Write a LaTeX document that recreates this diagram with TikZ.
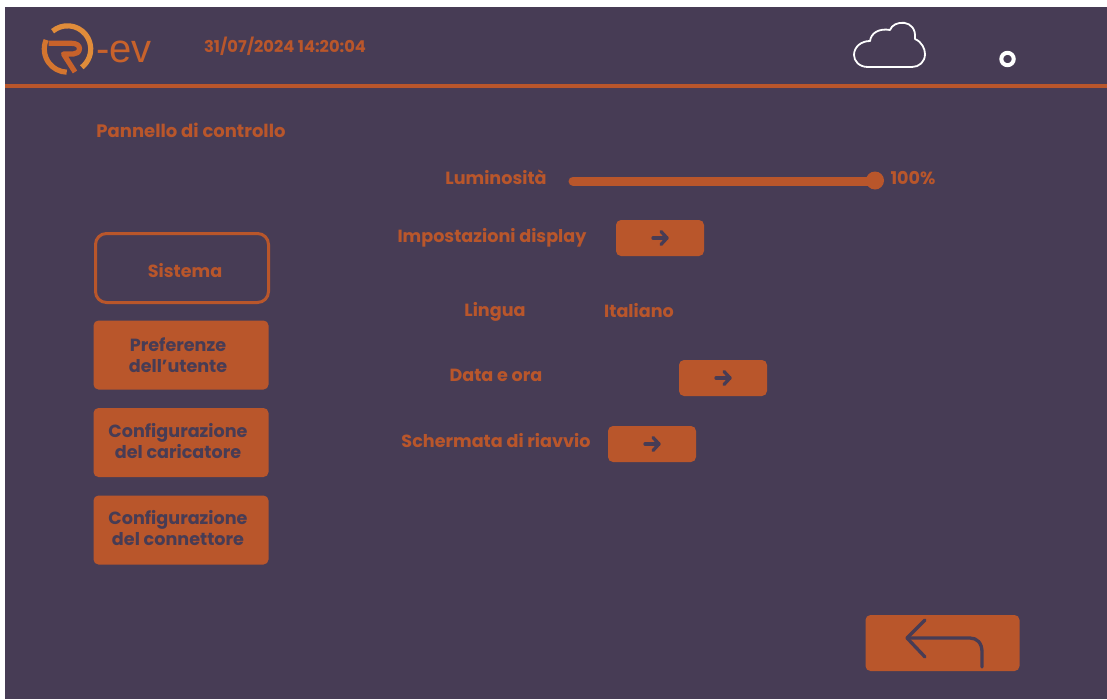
\documentclass[tikz,border=0pt]{standalone}
\usepackage{fontspec}
\setmainfont{Poppins}
\newfontfamily\evfont{Liberation Sans}
\usetikzlibrary{arrows.meta}
\definecolor{panel}{HTML}{473C55}
\definecolor{rust}{HTML}{B9562B}
\definecolor{logotop}{HTML}{E08C3A}
\definecolor{logomid}{HTML}{D4752F}
\definecolor{logolow}{HTML}{C8622B}
\tikzset{
 x=1pt,y=-1pt,
 lbl/.style={text=rust,font=\bfseries\fontsize{17.6}{21}\selectfont,inner sep=0pt,align=center},
 dk/.style={text=panel,font=\bfseries\fontsize{17.6}{21}\selectfont,inner sep=0pt,align=center},
 btn/.style={fill=rust,rounded corners=5pt,draw=none,inner sep=0pt},
 arr/.style={draw=panel,line width=3.3pt,line cap=round,line join=round},
 wire/.style={draw=white,line join=round,line cap=round},
 logo/.style={line width=5.2pt,line join=round},
}
\begin{document}
\begin{tikzpicture}
\useasboundingbox (0,0) rectangle (1107,699);
\fill[white] (0,0) rectangle (1107,699);
\fill[panel] (5,7) rectangle (1107,699);
\fill[rust] (5,84) rectangle (1107,88);
% logo
\begin{scope}[shift={(67.5,49)},y=1pt]
\draw[logo,logotop] (130:23.2) arc[start angle=130,end angle=-52,radius=23.2];
\draw[logo,logomid] (157:23.2) arc[start angle=157,end angle=268,radius=23.2];
\draw[logo,logolow] (-19,5.7) -- (4,5.7) .. controls (9,5.7) and (12,3.5) .. (12,0.5)
  .. controls (12,-3) and (9,-5) .. (6,-5) -- (-4,-5) -- (7.5,-23);
\end{scope}
\node[text=logolow,font=\evfont\fontsize{40}{40}\selectfont,inner sep=0pt,anchor=base west] (ev) at (96,62) {-ev};
\node[lbl,font=\bfseries\fontsize{16.3}{20}\selectfont] (date) at (285,46) {31/07/2024 14:20:04};
% cloud
\draw[wire,line width=1.8pt] (868,67) .. controls (859,67) and (854,61) .. (854,55)
 .. controls (854,47) and (861,41) .. (870,41)
 .. controls (871,33) and (879,28) .. (890,30)
 .. controls (893,20) and (917,18) .. (915,39)
 .. controls (922,42) and (925,49) .. (925,54)
 .. controls (925,62) and (919,67) .. (912,67) -- cycle;
\draw[draw=white,line width=4pt] (1007.5,59) circle[radius=6.2];
\node[lbl,font=\bfseries\fontsize{18}{21}\selectfont] (title) at (191,130.5) {Pannello di controllo};
\node[lbl] (lum) at (496,177) {Luminosità};
\draw[rust,line width=9pt,line cap=round] (573,181) -- (875,181);
\fill[rust] (875,180.5) circle[radius=9];
\node[lbl] (pct) at (913,178) {100\%};
\node[lbl] (disp) at (492,238) {Impostazioni display};
\node[lbl] (lin) at (495,312) {Lingua};
\node[lbl] (ita) at (639,311) {Italiano};
\node[lbl] (data) at (496,375) {Data e ora};
\node[lbl] (sch) at (496,441) {Schermata di riavvio};
\foreach \n/\x/\y in {b1/660/238,b2/723/378,b3/652/444}{
 \node[btn,minimum width=88pt,minimum height=36pt] (\n) at (\x,\y) {};
 \draw[arr] (\x-7,\y) -- (\x+7,\y);
 \draw[arr] (\x+1,\y-6.5) -- (\x+7,\y) -- (\x+1,\y+6.5);
}
\node[draw=rust,line width=3pt,rounded corners=11pt,minimum width=173pt,minimum height=69pt,inner sep=0pt] (sys) at (182,268) {};
\node[lbl] at (185,271) {Sistema};
\node[btn,minimum width=175pt,minimum height=69pt] (pref) at (181,355) {};
\node[dk] at (178,355.5) {Preferenze\\dell’utente};
\node[btn,minimum width=175pt,minimum height=69pt] (car) at (181,442.5) {};
\node[dk] at (178,441) {Configurazione\\del caricatore};
\node[btn,minimum width=175pt,minimum height=69pt] (con) at (181,530) {};
\node[dk] at (178,528) {Configurazione\\del connettore};
\node[btn,minimum width=154pt,minimum height=56pt] (back) at (942.5,643) {};
\draw[arr] (982,667) -- (982,652) .. controls (982,643) and (977,638) .. (970,638) -- (907,638);
\draw[arr] (925,620) -- (907,638) -- (925,657);
\end{tikzpicture}
\end{document}
